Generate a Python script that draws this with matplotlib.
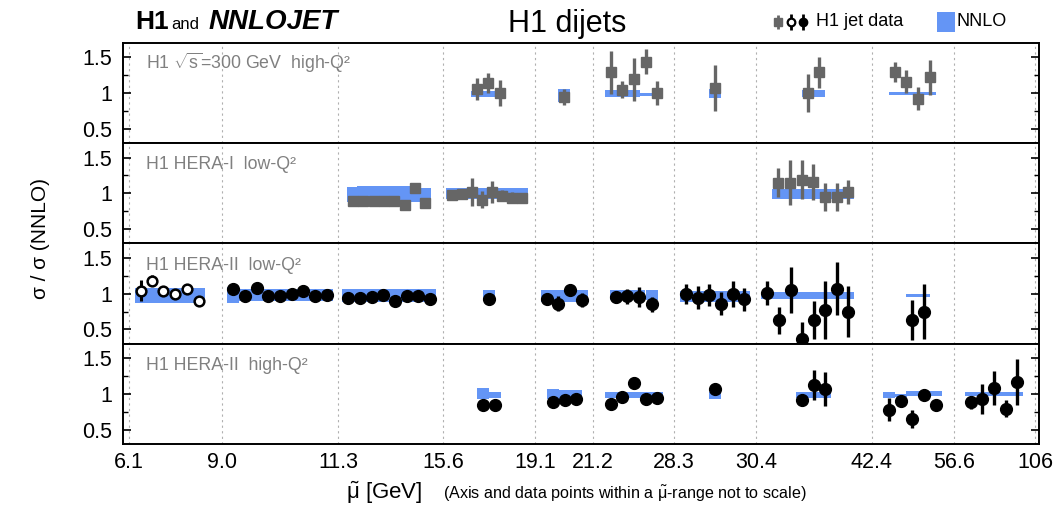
import numpy as np
import matplotlib
matplotlib.use("Agg")
import matplotlib.pyplot as plt
from matplotlib.patches import Rectangle

plt.rcParams['font.family'] = ['Liberation Sans', 'DejaVu Sans']
plt.rcParams['mathtext.fontset'] = 'custom'
plt.rcParams['mathtext.rm'] = 'Liberation Sans'
plt.rcParams['mathtext.it'] = 'Liberation Sans:italic'

# mu-range edges (axis not to scale)
mu_labels = ['6.1', '9.0', '11.3', '15.6', '19.1', '21.2', '28.3', '30.4', '42.4', '56.6', '106']
mu_pos = [6, 99, 215, 320, 412, 470, 551, 633, 749, 831, 912]

panel_names = ['H1 $\\sqrt{\\mathrm{s}}$=300 GeV  high-Q²', 'H1 HERA-I  low-Q²',
               'H1 HERA-II  low-Q²', 'H1 HERA-II  high-Q²']

# panel 1: H1 sqrt(s)=300 GeV high-Q2
p1_x = [354, 365, 377, 441, 488, 499, 511, 523, 534, 592, 685, 696, 772, 783, 795, 807]
p1_y = [1.06, 1.14, 1.00, 0.95, 1.29, 1.05, 1.19, 1.44, 1.00, 1.07, 1.00, 1.29, 1.29, 1.16, 0.92, 1.22]
p1_err = [0.15, 0.14, 0.18, 0.11, 0.30, 0.12, 0.30, 0.18, 0.17, 0.32, 0.27, 0.22, 0.14, 0.16, 0.16, 0.24]
p1_lo = [0.94, 0.94, 0.94, 0.88, 0.95, 0.95, 0.95, 0.96, 0.96, 0.93, 0.95, 0.95, 0.97, 0.97, 0.97, 0.97]
p1_hi = [1.03, 1.03, 1.03, 1.06, 1.05, 1.05, 1.05, 1.00, 1.00, 1.06, 1.04, 1.04, 1.01, 1.01, 1.01, 1.01]

# panel 2: H1 HERA-I low-Q2
p2_x = [230, 240, 251, 261, 271, 282, 292, 302, 329, 339, 349, 359, 369, 379, 389, 399,
        655, 667, 679, 690, 702, 714, 725]
p2_y = [0.89, 0.89, 0.90, 0.89, 0.89, 0.84, 1.08, 0.87, 0.98, 0.99, 1.02, 0.91, 1.02, 0.97, 0.94, 0.94,
        1.15, 1.15, 1.19, 1.16, 0.95, 0.95, 1.02]
p2_err = [0.03, 0.03, 0.03, 0.03, 0.03, 0.03, 0.03, 0.03, 0.06, 0.07, 0.20, 0.12, 0.15, 0.08, 0.08, 0.07,
          0.20, 0.31, 0.27, 0.25, 0.20, 0.19, 0.17]
p2_lo = [0.88] * 8 + [0.92] * 8 + [0.92] * 7
p2_hi = [1.09, 1.10, 1.10, 1.10, 1.10, 1.10, 1.08, 1.08] + [1.07] * 8 + [1.065] * 7

# panel 3: H1 HERA-II low-Q2 (first six points open markers)
p3_x = [18, 29, 40, 52, 64, 76,
        110, 122, 134, 145, 157, 169, 180, 192, 204,
        225, 237, 249, 260, 272, 284, 295, 307,
        366, 424, 435, 447, 459, 493, 504, 516, 529,
        563, 575, 586, 598, 610, 621,
        644, 656, 668, 679, 691, 702, 714, 725, 789, 801]
p3_y = [1.04, 1.18, 1.03, 1.00, 1.06, 0.90,
        1.07, 0.97, 1.08, 0.97, 0.97, 1.00, 1.04, 0.97, 0.98,
        0.94, 0.94, 0.95, 0.98, 0.90, 0.96, 0.96, 0.93,
        0.93, 0.93, 0.86, 1.05, 0.91, 0.95, 0.96, 0.95, 0.85,
        1.00, 0.94, 0.98, 0.86, 0.99, 0.92,
        1.01, 0.63, 1.05, 0.36, 0.63, 0.77, 1.07, 0.75, 0.63, 0.75]
p3_err = [0.15, 0.08, 0.06, 0.06, 0.06, 0.07,
          0.05, 0.04, 0.04, 0.04, 0.04, 0.04, 0.08, 0.04, 0.04,
          0.04, 0.04, 0.04, 0.04, 0.04, 0.04, 0.04, 0.04,
          0.04, 0.05, 0.10, 0.05, 0.10, 0.08, 0.10, 0.14, 0.10,
          0.14, 0.16, 0.15, 0.16, 0.18, 0.16,
          0.17, 0.19, 0.32, 0.25, 0.26, 0.40, 0.37, 0.36, 0.28, 0.39]
p3_lo = [0.875] * 6 + [0.875] + [0.89] * 8 + [0.88] * 8 + [0.93] + [0.88] * 4 + [0.91] * 4 \
        + [0.88] * 6 + [0.93] * 8 + [0.95] * 2
p3_hi = [1.08] * 6 + [1.09] + [1.07] * 8 + [1.06] * 8 + [1.055] + [1.05] * 4 + [1.05] * 4 \
        + [1.03] * 6 + [1.02] * 8 + [1.00] * 2
p3_open = [True] * 6 + [False] * 42

# panel 4: H1 HERA-II high-Q2
p4_x = [360, 372, 430, 442, 453, 488, 499, 511, 523, 534, 592, 679, 691, 702,
        766, 778, 789, 801, 813, 848, 859, 871, 883, 894]
p4_y = [0.84, 0.85, 0.88, 0.92, 0.93, 0.86, 0.96, 1.15, 0.93, 0.94, 1.07, 0.92, 1.13, 1.07,
        0.78, 0.90, 0.65, 0.99, 0.85, 0.88, 0.93, 1.08, 0.79, 1.16]
p4_err = [0.03, 0.03, 0.03, 0.03, 0.03, 0.03, 0.03, 0.08, 0.03, 0.03, 0.03, 0.03, 0.21, 0.24,
          0.16, 0.06, 0.13, 0.07, 0.06, 0.09, 0.21, 0.24, 0.12, 0.32]
p4_lo = [0.93, 0.94, 0.93, 0.93, 0.92, 0.94, 0.94, 0.94, 0.94, 0.94, 0.93, 0.94, 0.94, 0.94,
         0.94, 0.96, 0.97, 0.97, 0.97, 0.97, 0.97, 0.97, 0.97, 0.97]
p4_hi = [1.08, 1.03, 1.07, 1.06, 1.05, 1.03, 1.03, 1.03, 1.03, 1.03, 1.02, 1.03, 1.03, 1.03,
         1.03, 1.00, 1.04, 1.04, 1.04, 1.02, 1.02, 1.02, 1.02, 1.02]

blue = '#6495f5'
gray = '#666666'
band_w = 11.7

fig = plt.figure(figsize=(10.53, 5.08), dpi=100)
gs = fig.add_gridspec(4, 1, left=0.1168, right=0.9867, top=0.9154, bottom=0.126, hspace=0)
axes = [fig.add_subplot(gs[i]) for i in range(4)]

panels = [(p1_x, p1_y, p1_err, p1_lo, p1_hi), (p2_x, p2_y, p2_err, p2_lo, p2_hi),
          (p3_x, p3_y, p3_err, p3_lo, p3_hi), (p4_x, p4_y, p4_err, p4_lo, p4_hi)]

for i, (ax, (x, y, e, lo, hi)) in enumerate(zip(axes, panels)):
    x = np.array(x, float); y = np.array(y); e = np.array(e)
    lo = np.array(lo); hi = np.array(hi)
    ax.bar(x, hi - lo, bottom=lo, width=band_w, color=blue, linewidth=0, zorder=2)
    if i < 2:
        ax.errorbar(x, y, yerr=e, fmt='s', color=gray, ms=7.5, elinewidth=2.4,
                    capsize=0, zorder=3)
    else:
        op = np.array(p3_open if i == 2 else [False] * len(x))
        if op.any():
            ax.errorbar(x[op], y[op], yerr=e[op], fmt='o', color='black', mfc='white',
                        mec='black', mew=1.8, ms=7, elinewidth=2.2, capsize=0, zorder=3)
        ax.errorbar(x[~op], y[~op], yerr=e[~op], fmt='o', color='black', ms=8.5,
                    elinewidth=2.4, capsize=0, zorder=3)

    ax.set_xlim(0, 916)
    ax.set_ylim(0.3, 1.7)
    ax.set_xticks(mu_pos)
    ax.grid(axis='x', color='#b0b0b0', linestyle=(0, (2, 3)), linewidth=0.8)
    ax.set_axisbelow(True)
    ax.set_yticks([0.5, 1.0, 1.5])
    ax.set_yticklabels(['0.5', '1', '1.5'])
    ax.set_yticks([0.75, 1.25], minor=True)
    ax.tick_params(axis='y', which='both', direction='in', left=True, right=True,
                   labelsize=15.5, pad=8)
    ax.tick_params(axis='y', which='major', length=6, width=1.2)
    ax.tick_params(axis='y', which='minor', length=3.5, width=1.0)
    ax.tick_params(axis='x', length=0, labelsize=15.5, pad=6)
    if i < 3:
        ax.tick_params(axis='x', labelbottom=False)
    else:
        ax.set_xticklabels(mu_labels)
    for s in ax.spines.values():
        s.set_linewidth(1.4)
    ax.text(0.025, 0.74, panel_names[i], transform=ax.transAxes, color='#808080',
            fontsize=12.8, va='baseline')

fig.text(0.128, 0.943, 'H1', fontsize=19, fontweight='bold', va='baseline')
fig.text(0.163, 0.943, 'and', fontsize=12, va='baseline')
fig.text(0.198, 0.943, 'NNLOJET', fontsize=20, fontweight='bold', style='italic', va='baseline')
fig.text(0.539, 0.937, 'H1 dijets', fontsize=22, ha='center', va='baseline')

fig.text(0.038, 0.53, 'σ / σ (NNLO)', rotation=90, fontsize=15, ha='center', va='center')
fig.text(0.329, 0.017, '$\\tilde{\\mathrm{\\mu}}$ [GeV]', fontsize=16, va='baseline')
fig.text(0.421, 0.017, '(Axis and data points within a $\\tilde{\\mathrm{\\mu}}$-range not to scale)',
         fontsize=11.6, va='baseline')

# legend drawn in figure pixel coordinates
lg = fig.add_axes([0, 0, 1, 1], zorder=5)
lg.set_xlim(0, 1053)
lg.set_ylim(508, 0)
lg.axis('off')
lg.errorbar([778], [22], yerr=[[7], [7]], fmt='s', color=gray, ms=5.5, elinewidth=2, capsize=0)
lg.errorbar([791], [22], yerr=[[8], [8]], fmt='o', color='black', mfc='white', mec='black',
            mew=1.6, ms=5.5, elinewidth=2, capsize=0)
lg.errorbar([803], [22], yerr=[[8], [8]], fmt='o', color='black', ms=6, elinewidth=2, capsize=0)
lg.text(816, 22, 'H1 jet data', fontsize=13, va='center')
lg.add_patch(Rectangle((937, 12), 18, 20, facecolor=blue, edgecolor='none'))
lg.text(957, 22, 'NNLO', fontsize=13, va='center')

fig.savefig('out.png', dpi=100)
